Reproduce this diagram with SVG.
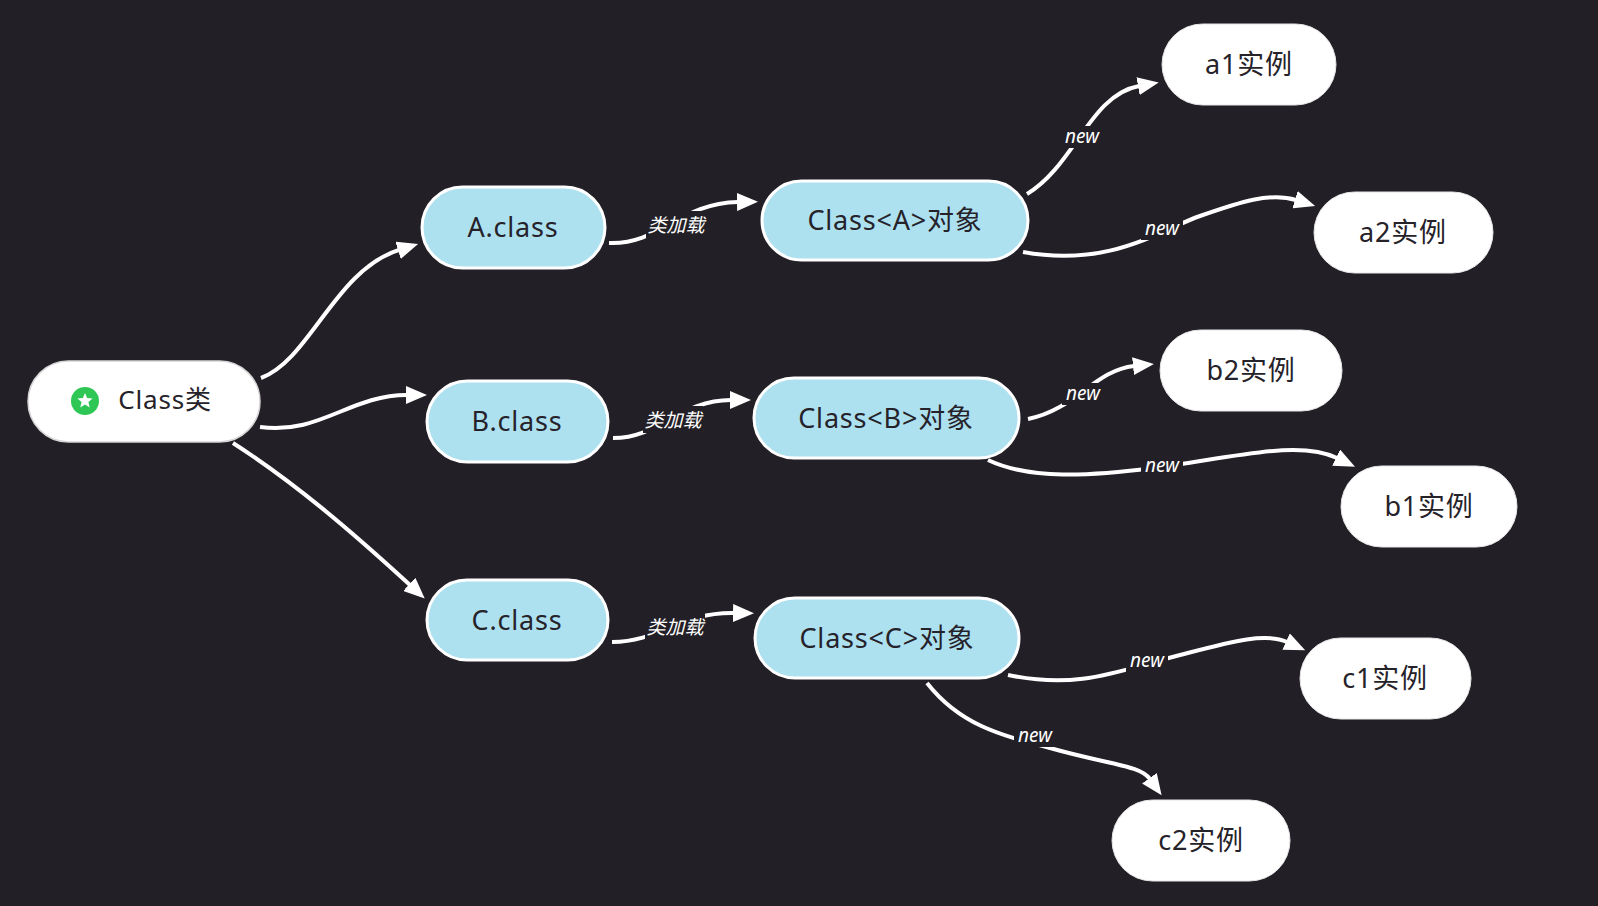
<svg xmlns="http://www.w3.org/2000/svg" width="1598" height="906" viewBox="0 0 1598 906">
<defs>
<marker id="arr" markerUnits="userSpaceOnUse" markerWidth="22" markerHeight="18" refX="1" refY="9" orient="auto" viewBox="0 0 22 18">
<path d="M0,0 L21,9 L0,18 z" fill="#ffffff"/>
</marker>
<style>
.bg{fill:#231f26}
.root{fill:#ffffff;stroke:#d6d6d6;stroke-width:1.5}
.cls{fill:#ade1f0;stroke:#ffffff;stroke-width:3}
.inst{fill:#ffffff;stroke:#e6e6e6;stroke-width:1}
.t{font-family:"Noto Sans","Noto Sans CJK SC",sans-serif;font-size:27px;fill:#26222a;text-anchor:middle;letter-spacing:0.8px}
.e{fill:none;stroke:#ffffff;stroke-width:4;marker-end:url(#arr)}
.lb{fill:#231f26}
.l{font-family:"Noto Sans","Noto Sans CJK SC",sans-serif;font-size:19px;font-style:italic;fill:#ffffff;text-anchor:middle}
</style>
</defs>
<rect class="bg" x="0" y="0" width="1598" height="906"/>
<g id="connectors">
<path class="e" d="M261,378 C310,360 335,270 399,250"/>
<path class="e" d="M260,427 C320,435 350,395 407,395"/>
<path class="e" d="M233,443 C295,483 350,530 410,585"/>
<path class="e" d="M609,243 C660,245 680,203 738,202"/>
<path class="e" d="M613,438 C660,438 680,400 731,400"/>
<path class="e" d="M612,642 C660,642 680,612 734,613"/>
<path class="e" d="M1027,194 C1075,165 1090,95 1139,86"/>
<path class="e" d="M1023,252 C1110,268 1160,230 1200,216 C1240,202 1270,192 1296,200"/>
<path class="e" d="M1028,419 C1075,410 1095,370 1134,366"/>
<path class="e" d="M988,460 C1030,480 1090,476 1155,468 C1240,456 1300,440 1337,458"/>
<path class="e" d="M1008,675 C1080,690 1120,670 1180,655 C1230,642 1265,632 1287,642"/>
<path class="e" d="M927,683 C960,725 1000,735 1050,748 C1110,765 1140,765 1150,779"/>
<rect class="lb" x="646" y="211" width="60" height="27"/>
<text class="l" x="676" y="232">类加载</text>
<rect class="lb" x="643" y="406" width="60" height="27"/>
<text class="l" x="673" y="427">类加载</text>
<rect class="lb" x="645" y="613" width="60" height="27"/>
<text class="l" x="675" y="634">类加载</text>
<rect class="lb" x="1061" y="126" width="42" height="22"/>
<text class="l" x="1082" y="143">new</text>
<rect class="lb" x="1141" y="218" width="42" height="22"/>
<text class="l" x="1162" y="235">new</text>
<rect class="lb" x="1062" y="383" width="42" height="22"/>
<text class="l" x="1083" y="400">new</text>
<rect class="lb" x="1141" y="455" width="42" height="22"/>
<text class="l" x="1162" y="472">new</text>
<rect class="lb" x="1126" y="650" width="42" height="22"/>
<text class="l" x="1147" y="667">new</text>
<rect class="lb" x="1014" y="725" width="42" height="22"/>
<text class="l" x="1035" y="742">new</text>
</g>
<g id="node-root">
<rect class="root" x="28" y="361" width="232" height="81" rx="40.5"/>
<circle cx="85" cy="401" r="14" fill="#2ec654"/>
<polygon fill="#ffffff" points="85,393 87.12,398.09 92.61,398.53 88.42,402.11 89.7,407.47 85,404.6 80.3,407.47 81.58,402.11 77.39,398.53 82.88,398.09"/>
<text class="t" x="165" y="409" style="font-size:26px">Class类</text>
</g>
<g id="node-aclass">
<rect class="cls" x="422" y="187" width="183" height="81" rx="40.5"/>
<text class="t" x="513" y="237">A.class</text>
</g>
<g id="node-bclass">
<rect class="cls" x="427" y="381" width="181" height="81" rx="40.5"/>
<text class="t" x="517" y="431">B.class</text>
</g>
<g id="node-cclass">
<rect class="cls" x="427" y="580" width="181" height="80" rx="40"/>
<text class="t" x="517" y="630">C.class</text>
</g>
<g id="node-classA">
<rect class="cls" x="762" y="181" width="266" height="79" rx="39.5"/>
<text class="t" x="895" y="230">Class&lt;A&gt;对象</text>
</g>
<g id="node-classB">
<rect class="cls" x="754" y="378" width="265" height="80" rx="40"/>
<text class="t" x="886" y="428">Class&lt;B&gt;对象</text>
</g>
<g id="node-classC">
<rect class="cls" x="755" y="598" width="264" height="80" rx="40"/>
<text class="t" x="887" y="648">Class&lt;C&gt;对象</text>
</g>
<g id="node-a1">
<rect class="inst" x="1162" y="24" width="174" height="81" rx="40.5"/>
<text class="t" x="1249" y="74">a1实例</text>
</g>
<g id="node-a2">
<rect class="inst" x="1314" y="192" width="179" height="81" rx="40.5"/>
<text class="t" x="1403" y="242">a2实例</text>
</g>
<g id="node-b2">
<rect class="inst" x="1160" y="330" width="182" height="81" rx="40.5"/>
<text class="t" x="1251" y="380">b2实例</text>
</g>
<g id="node-b1">
<rect class="inst" x="1341" y="466" width="176" height="81" rx="40.5"/>
<text class="t" x="1429" y="516">b1实例</text>
</g>
<g id="node-c1">
<rect class="inst" x="1300" y="638" width="171" height="81" rx="40.5"/>
<text class="t" x="1385" y="688">c1实例</text>
</g>
<g id="node-c2">
<rect class="inst" x="1112" y="800" width="178" height="81" rx="40.5"/>
<text class="t" x="1201" y="850">c2实例</text>
</g>
</svg>
